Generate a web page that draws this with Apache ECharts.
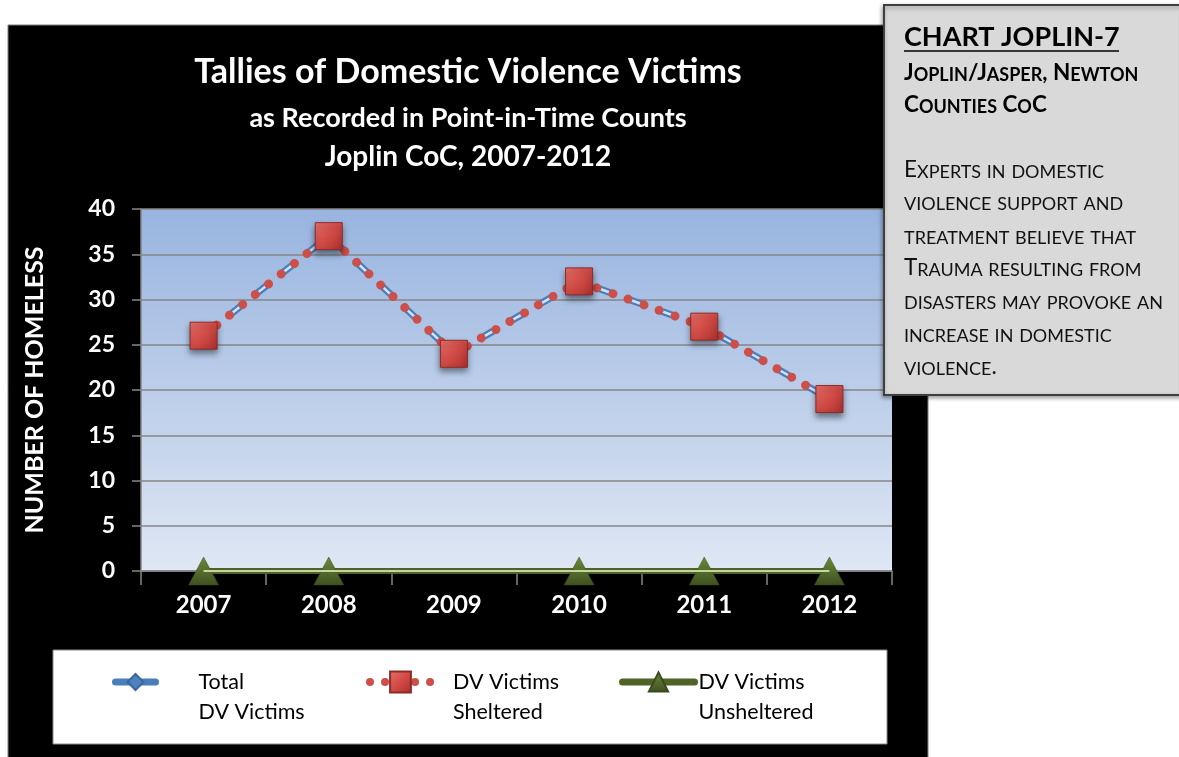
<!DOCTYPE html>
<html>
<head>
<meta charset="utf-8">
<script src="https://cdn.jsdelivr.net/npm/echarts@6/dist/echarts.min.js"></script>
<style>
html,body{margin:0;padding:0;background:#fff;}
#chart{width:1179px;height:757px;}
</style>
</head>
<body>
<div id="chart"></div>
<script>
// ---- data ----
const years = ['2007', '2008', '2009', '2010', '2011', '2012'];
const totalVictims = [26, 37, 24, 32, 27, 19];
const sheltered = [26, 37, 24, 32, 27, 19];
const unsheltered = [0, 0, null, 0, 0, 0];
const yTicks = { min: 0, max: 40, interval: 5 };

const titleMain = 'Tallies of Domestic Violence Victims';
const titleSub1 = 'as Recorded in Point-in-Time Counts';
const titleSub2 = 'Joplin CoC, 2007-2012';
const yName = 'NUMBER OF HOMELESS';
const boxHeading = 'CHART JOPLIN-7';
const boxSubLines = ['Joplin/Jasper, Newton', 'Counties CoC'];
const boxBodyLines = ['Experts in domestic', 'violence support and', 'treatment believe that',
  'Trauma resulting from', 'disasters may provoke an', 'increase in domestic', 'violence.'];
const legendLabels = {
  'Total DV Victims': ['Total', 'DV Victims'],
  'DV Victims Sheltered': ['DV Victims', 'Sheltered'],
  'DV Victims Unsheltered': ['DV Victims', 'Unsheltered']
};

const FONT = 'Lato, "Open Sans", sans-serif';

// small caps via rich text
function smallCaps(str) {
  let out = '';
  let i = 0;
  while (i < str.length) {
    const isLower = /[a-z]/.test(str[i]);
    let j = i;
    while (j < str.length && /[a-z]/.test(str[j]) === isLower) j++;
    const seg = str.slice(i, j);
    out += isLower ? '{s|' + seg.toUpperCase() + '}' : '{b|' + seg + '}';
    i = j;
  }
  return out;
}

const chart = echarts.init(document.getElementById('chart'));

function centerText(t, y, size) {
  return { type: 'text', z: 5, x: 468, y: y,
    style: { text: t, font: 'bold ' + size + 'px ' + FONT, fill: '#fff', textAlign: 'center', align: 'center', textVerticalAlign: 'middle', verticalAlign: 'middle' } };
}

const graphics = [
  { type: 'rect', z: -10, shape: { x: 8, y: 25, width: 920, height: 740 },
    style: { fill: '#000', stroke: '#7f7f7f', lineWidth: 1 } },
  { type: 'rect', z: 1, shape: { x: 53, y: 650, width: 834, height: 94 },
    style: { fill: '#fff', stroke: '#8a8a8a', lineWidth: 1 } },
  centerText(titleMain, 72, 34),
  centerText(titleSub1, 118, 27),
  centerText(titleSub2, 157, 28),
  // side text box
  { type: 'rect', z: 100, shape: { x: 884, y: 5, width: 300, height: 390 },
    style: { fill: '#d9d9d9', stroke: '#3f3f3f', lineWidth: 2, shadowColor: 'rgba(0,0,0,0.35)', shadowBlur: 4, shadowOffsetX: -1, shadowOffsetY: 2 } },
  { type: 'text', z: 101, x: 904, y: 37,
    style: { text: boxHeading, font: 'bold 27px ' + FONT, fill: '#000', textAlign: 'left', align: 'left', textVerticalAlign: 'middle', verticalAlign: 'middle' } },
  { type: 'line', z: 101, shape: { x1: 904, y1: 51, x2: 1119, y2: 51 }, style: { stroke: '#000', lineWidth: 1.5 } }
];
const subY = [73, 105];
boxSubLines.forEach(function (t, k) {
  graphics.push({ type: 'text', z: 101, x: 904, y: subY[k],
    style: { text: smallCaps(t), fill: '#000', textAlign: 'left', align: 'left', textVerticalAlign: 'middle', verticalAlign: 'middle',
      rich: { b: { font: 'bold 22.5px ' + FONT, fill: '#000', verticalAlign: 'bottom' },
              s: { font: 'bold 18px ' + FONT, fill: '#000', verticalAlign: 'bottom' } } } });
});
const bodyY = [170, 202, 236, 268, 301, 334, 367];
boxBodyLines.forEach(function (t, k) {
  graphics.push({ type: 'text', z: 101, x: 904, y: bodyY[k],
    style: { text: smallCaps(t), fill: '#111', textAlign: 'left', align: 'left', textVerticalAlign: 'middle', verticalAlign: 'middle',
      rich: { b: { font: '22.5px ' + FONT, fill: '#111', verticalAlign: 'bottom' },
              s: { font: '18px ' + FONT, fill: '#111', verticalAlign: 'bottom' } } } });
});

const redSquare = {
  type: 'linear', x: 0, y: 0, x2: 1, y2: 1,
  colorStops: [{ offset: 0, color: '#e8716c' }, { offset: 0.5, color: '#d24b46' }, { offset: 1, color: '#a8302c' }]
};
const greenTri = {
  type: 'linear', x: 0, y: 0, x2: 0, y2: 1,
  colorStops: [{ offset: 0, color: '#6c8a3a' }, { offset: 1, color: '#3f5020' }]
};

function legendCfg(name, left, itemWidth, itemHeight, padLeft, lineStyle) {
  return {
    data: [name], left: left, top: 637, padding: 0, orient: 'horizontal',
    itemWidth: itemWidth, itemHeight: itemHeight, selectedMode: false, z: 4,
    lineStyle: lineStyle,
    formatter: function (n) { return ' \n' + legendLabels[n].join('\n'); },
    textStyle: { color: '#000', fontFamily: FONT, fontSize: 21.5, lineHeight: 30, padding: [0, 0, 0, padLeft] }
  };
}

const DASH_BLUE = [17, 16];
const DASH_RED = [0.01, 17, 0.01, 16];

const option = {
  backgroundColor: '#fff',
  animation: false,
  graphic: graphics,
  legend: [
    legendCfg('Total DV Victims', 112, 40, 20, 38, { width: 7, type: 'solid', cap: 'round' }),
    legendCfg('DV Victims Sheltered', 366, 61, 26, 17, { width: 8, type: [0.01, 15], cap: 'round' }),
    legendCfg('DV Victims Unsheltered', 619, 72, 24, -1, { width: 7, type: 'solid', cap: 'round' })
  ],
  grid: {
    left: 141, right: 287, top: 209, bottom: 186, show: true, borderWidth: 0,
    backgroundColor: { type: 'linear', x: 0, y: 0, x2: 0, y2: 1,
      colorStops: [{ offset: 0, color: '#98b4df' }, { offset: 1, color: '#dfe7f4' }] }
  },
  xAxis: {
    type: 'category', data: years, boundaryGap: true,
    axisLine: { lineStyle: { color: '#868686', width: 1.5 } },
    axisTick: { show: true, length: 14, lineStyle: { color: '#868686', width: 1.5 } },
    axisLabel: { color: '#fff', fontFamily: FONT, fontWeight: 'bold', fontSize: 24, margin: 22 }
  },
  yAxis: {
    type: 'value', min: yTicks.min, max: yTicks.max, interval: yTicks.interval,
    name: yName, nameLocation: 'middle', nameRotate: 90, nameGap: 94,
    nameTextStyle: { color: '#fff', fontFamily: FONT, fontWeight: 'bold', fontSize: 25 },
    axisLine: { show: true, lineStyle: { color: '#868686', width: 1.5 } },
    axisTick: { show: true, length: 9, lineStyle: { color: '#868686', width: 1.5 } },
    splitLine: { lineStyle: { color: '#868686', width: 1.5 } },
    axisLabel: { color: '#fff', fontFamily: FONT, fontWeight: 'bold', fontSize: 23, margin: 26 }
  },
  series: [
    {
      name: 'Total DV Victims', type: 'line', data: totalVictims, z: 2,
      symbol: 'diamond', symbolSize: 16,
      itemStyle: { color: '#4f81bd', borderColor: '#3a66a0', borderWidth: 1 },
      lineStyle: { color: '#4a7ebb', width: 7, type: DASH_BLUE }
    },
    {
      name: 'total-inner', type: 'line', data: totalVictims, z: 3, silent: true,
      symbol: 'none', lineStyle: { color: '#d3e1f4', width: 2.5, type: DASH_BLUE }
    },
    {
      name: 'DV Victims Sheltered', type: 'line', data: sheltered, z: 4,
      symbol: 'rect', symbolSize: 27,
      itemStyle: { color: redSquare, borderColor: '#8c2a28', borderWidth: 1, shadowColor: 'rgba(0,0,0,0.45)', shadowBlur: 6, shadowOffsetY: 4 },
      lineStyle: { color: '#cd4f4a', width: 9, type: DASH_RED, cap: 'round' }
    },
    {
      name: 'DV Victims Unsheltered', type: 'line', data: unsheltered, z: 2, connectNulls: true,
      symbol: 'triangle', symbolSize: [30, 28],
      itemStyle: { color: greenTri, borderColor: '#3a4a1e', borderWidth: 0.5 },
      lineStyle: { color: '#4f6228', width: 6 }
    },
    {
      name: 'unsheltered-inner', type: 'line', data: unsheltered, z: 3, silent: true, connectNulls: true,
      symbol: 'none', lineStyle: { color: '#c3d69b', width: 2 }
    }
  ]
};
chart.setOption(option);
</script>
</body>
</html>
